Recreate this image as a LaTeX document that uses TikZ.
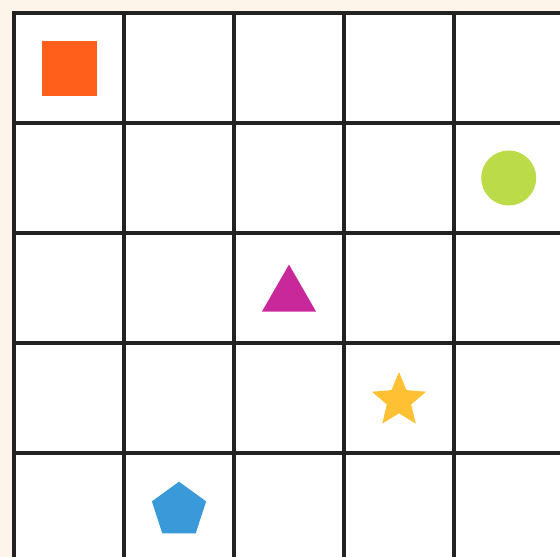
\documentclass[tikz,border=0pt]{standalone}
\usetikzlibrary{calc}
\definecolor{bgcream}{HTML}{FDF5E9}
\definecolor{gridline}{HTML}{222222}
\definecolor{sqorange}{HTML}{FF5F1A}
\definecolor{cgreen}{HTML}{BCDB48}
\definecolor{tmagenta}{HTML}{C9289A}
\definecolor{syellow}{HTML}{FFC133}
\definecolor{pblue}{HTML}{3A9AD9}
\tikzset{gridstroke/.style={draw=gridline,line width=3.2pt}}
\begin{document}
\begin{tikzpicture}[x=1pt,y=-1pt]
\useasboundingbox (0,0) rectangle (560,557);
\fill[bgcream] (0,0) rectangle (560,557);
\begin{scope}
\clip (0,0) rectangle (560,557);
\fill[white] (14,13) rectangle (570,570);
\foreach \x in {14,124,234,344,454}{
  \draw[gridstroke] (\x,11.4) -- (\x,570);
}
\foreach \y in {13,123,233,343,453}{
  \draw[gridstroke] (12.4,\y) -- (570,\y);
}
\end{scope}
% square
\fill[sqorange] (42,41) rectangle (97,96);
% circle
\fill[cgreen] (508.7,178) circle (27.5);
% triangle
\fill[tmagenta] (289,264.5) -- (316,311.5) -- (262,311.5) -- cycle;
% star
\coordinate (sc) at (399,400.5);
\fill[syellow] ($(sc)+(-90:28.5)$)
  \foreach \i in {0,...,4}{ -- ($(sc)+({-126-72*\i}:12.8)$) -- ($(sc)+({-162-72*\i}:28.5)$) } -- cycle;
% pentagon
\coordinate (pc) at (179,510.2);
\fill[pblue] ($(pc)+(-90:28.5)$) \foreach \i in {1,...,4}{ -- ($(pc)+({-90-72*\i}:28.5)$) } -- cycle;
\end{tikzpicture}
\end{document}
